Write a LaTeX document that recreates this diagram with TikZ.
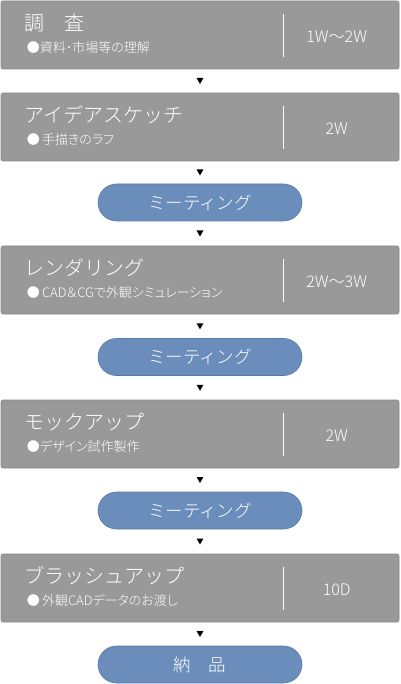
\documentclass[tikz,border=0pt]{standalone}
\usepackage{fontspec}
\setmainfont{Noto Sans CJK JP Light}
\newfontfamily\subfont[RawFeature=+palt]{Noto Sans CJK JP Light}
\usetikzlibrary{shapes.geometric,calc}
\definecolor{boxgray}{HTML}{999999}
\definecolor{boxedge}{HTML}{8A8A8A}
\definecolor{pillblue}{HTML}{6B8DBB}
\definecolor{pilledge}{HTML}{5A7AA6}
\tikzset{
  stagebox/.style={rectangle, rounded corners=2pt, fill=boxgray, draw=boxedge, line width=0.6pt,
    minimum width=398pt, minimum height=68pt, inner sep=0pt},
  pill/.style={rectangle, rounded corners=18.5pt, fill=pillblue, draw=pilledge, line width=0.6pt,
    minimum width=204pt, minimum height=37pt, inner sep=0pt, text=white,
    font=\fontsize{17.5}{20}\selectfont},
  ttl/.style={anchor=west, inner sep=0pt, text=white, font=\fontsize{20}{24}\selectfont},
  sub/.style={anchor=west, inner sep=0pt, text=white, font=\subfont\fontsize{13}{16}\selectfont},
  dur/.style={inner sep=0pt, text=white, font=\fontsize{16}{19}\selectfont},
  divider/.style={draw=white, line width=0.8pt},
  tri/.style={regular polygon, regular polygon sides=3, shape border rotate=180,
    fill=black, draw=none, minimum size=8pt, inner sep=0pt}
}
\begin{document}
\begin{tikzpicture}[x=1pt,y=-1pt]
\useasboundingbox (0,0) rectangle (400,684);
\fill[white] (0,0) rectangle (400,684);

% stage boxes
\node[stagebox] (box1) at (200,35) {};
\node[stagebox] (box2) at (200,127) {};
\node[stagebox] (box3) at (200,280) {};
\node[stagebox] (box4) at (200,434) {};
\node[stagebox] (box5) at (200,588) {};

% meeting pills
\node[pill] (pill1) at (200,202.5) {ミーティング};
\node[pill] (pill2) at (200,357) {ミーティング};
\node[pill] (pill3) at (200,510.5) {ミーティング};
\node[pill] (pill4) at (200,664.5) {納　品};

% contents of stage boxes
\foreach \b/\t/\s/\d in {box1/調　査/●資料･市場等の理解/1W〜2W,
                         box2/アイデアスケッチ/●\,手描きのラフ/2W,
                         box3/レンダリング/●\,CAD＆CGで外観シミュレーション/2W〜3W,
                         box4/モックアップ/●デザイン試作製作/2W,
                         box5/ブラッシュアップ/●\,外観CADデータのお渡し/10D}{
  \node[ttl] (\b-t) at ($(\b.north west)+(24,22)$) {\t};
  \node[sub] (\b-s) at ($(\b.north west)+(26,47)$) {\s};
  \node[dur] (\b-d) at ($(\b.north west)+(336,36)$) {\d};
  \coordinate (\b-lt) at ($(\b.north west)+(283,13)$);
  \coordinate (\b-lb) at ($(\b.north west)+(283,56)$);
  \draw[divider] (\b-lt) -- (\b-lb);
}

% arrow marks between steps
\node[tri] (a1) at ($($(box1.south)!0.5!(box2.north)$)+(0,-1)$) {};
\node[tri] (a2) at ($($(box2.south)!0.5!(pill1.north)$)+(0,-1)$) {};
\node[tri] (a3) at ($($(pill1.south)!0.5!(box3.north)$)+(0,-1)$) {};
\node[tri] (a4) at ($($(box3.south)!0.5!(pill2.north)$)+(0,-1)$) {};
\node[tri] (a5) at ($($(pill2.south)!0.5!(box4.north)$)+(0,-1)$) {};
\node[tri] (a6) at ($($(box4.south)!0.5!(pill3.north)$)+(0,-1)$) {};
\node[tri] (a7) at ($($(pill3.south)!0.5!(box5.north)$)+(0,-1)$) {};
\node[tri] (a8) at ($($(box5.south)!0.5!(pill4.north)$)+(0,-1)$) {};
\end{tikzpicture}
\end{document}
